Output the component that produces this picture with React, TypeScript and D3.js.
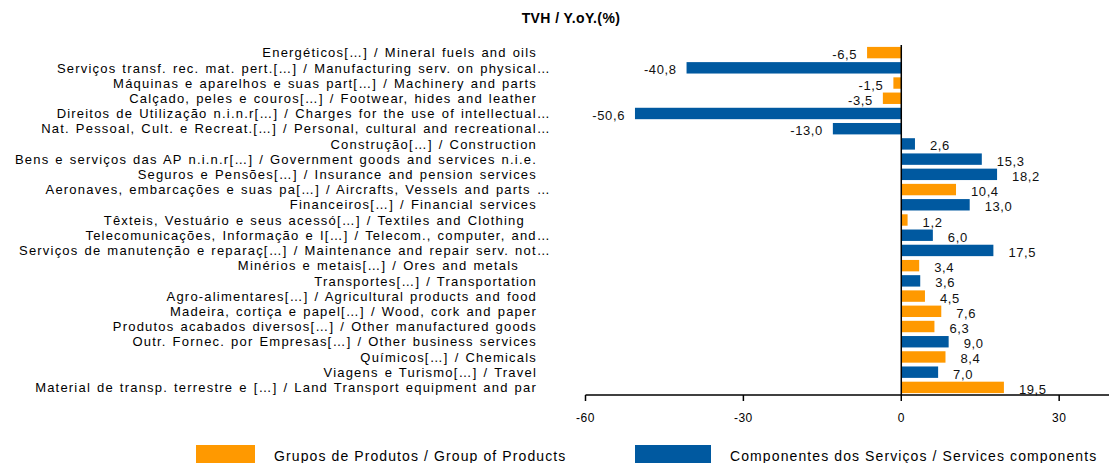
import React, { useEffect, useRef } from 'react'
import * as d3 from 'd3'

// category labels, top to bottom
const categories = [
  "Energéticos[…] / Mineral fuels and oils",
  "Serviços transf. rec. mat. pert.[…] / Manufacturing serv. on physical…",
  "Máquinas e aparelhos e suas part[…] / Machinery and parts",
  "Calçado, peles e couros[…] / Footwear, hides and leather",
  "Direitos de Utilização n.i.n.r[…] / Charges for the use of intellectual…",
  "Nat. Pessoal, Cult. e Recreat.[…] / Personal, cultural and recreational…",
  "Construção[…] / Construction",
  "Bens e serviços das AP n.i.n.r[…] / Government goods and services n.i.e.",
  "Seguros e Pensões[…] / Insurance and pension services",
  "Aeronaves, embarcações e suas pa[…] / Aircrafts, Vessels and parts …",
  "Financeiros[…] / Financial services",
  "Têxteis, Vestuário e seus acessó[…] / Textiles and Clothing  ",
  "Telecomunicações, Informação e I[…] / Telecom., computer, and…",
  "Serviços de manutenção e reparaç[…] / Maintenance and repair serv. not…",
  "Minérios e metais[…] / Ores and metals   ",
  "Transportes[…] / Transportation",
  "Agro-alimentares[…] / Agricultural products and food",
  "Madeira, cortiça e papel[…] / Wood, cork and paper",
  "Produtos acabados diversos[…] / Other manufactured goods",
  "Outr. Fornec. por Empresas[…] / Other business services",
  "Químicos[…] / Chemicals",
  "Viagens e Turismo[…] / Travel",
  "Material de transp. terrestre e […] / Land Transport equipment and par",
]

// Grupos de Produtos / Group of Products
const productValues: (number | null)[] = [
  -6.5, null, -1.5, -3.5, null, null, null, null, null, 10.4, null, 1.2,
  null, null, 3.4, null, 4.5, 7.6, 6.3, null, 8.4, null, 19.5,
]

// Componentes dos Serviços / Services components
const serviceValues: (number | null)[] = [
  null, -40.8, null, null, -50.6, -13.0, 2.6, 15.3, 18.2, null, 13.0, null,
  6.0, 17.5, null, 3.6, null, null, null, 9.0, null, 7.0, null,
]

const xTicks = [-60, -30, 0, 30]
const xDomain = [-60, 40]

const seriesNames = ["Grupos de Produtos / Group of Products", "Componentes dos Serviços / Services components"]
const seriesColours = ["#FF9900", "#0059A0"]

const width = 1109
const height = 463
const font = "'Liberation Sans', Arial, sans-serif"

export default function App() {
  const ref = useRef<SVGSVGElement>(null)

  useEffect(() => {
    const svg = d3.select(ref.current)
    svg.selectAll('*').remove()

    const x = d3.scaleLinear().domain(xDomain).range([585.5, 1111.8])
    const y = d3.scaleBand().domain(categories).range([45, 395]).paddingInner(0.25).paddingOuter(0.125)
    const fmt = (v: number) => d3.format('.1f')(v).replace('.', ',').replace('−', '-')

    // title
    svg.append('text')
      .attr('x', 571).attr('y', 23)
      .attr('text-anchor', 'middle')
      .attr('font-family', font).attr('font-size', 14).attr('font-weight', 'bold')
      .attr('letter-spacing', 0.4)
      .style('white-space', 'pre')
      .text('TVH / Y.oY.(%)')

    // category labels (a trailing ellipsis hangs past the right edge)
    svg.append('g').selectAll('text')
      .data(categories)
      .enter()
      .append('text')
      .attr('x', d => d.endsWith('…') ? 537 + 14 : 537)
      .attr('y', d => y(d)! + y.bandwidth() / 2)
      .attr('dy', '0.36em')
      .attr('text-anchor', 'end')
      .attr('font-family', font).attr('font-size', 13)
      .attr('letter-spacing', 1.2)
      .attr('word-spacing', 1.2)
      .style('white-space', 'pre')
      .text(d => d)

    // bars + value labels for each series
    const series = [productValues, serviceValues]
    series.forEach((vals, si) => {
      const pts = vals
        .map((v, i) => ({ cat: categories[i], v }))
        .filter(d => d.v !== null) as { cat: string; v: number }[]

      svg.append('g').selectAll('rect')
        .data(pts)
        .enter()
        .append('rect')
        .attr('x', d => x(Math.min(0, d.v)))
        .attr('y', d => y(d.cat)!)
        .attr('width', d => Math.abs(x(d.v) - x(0)))
        .attr('height', y.bandwidth())
        .attr('fill', seriesColours[si])

      svg.append('g').selectAll('text')
        .data(pts)
        .enter()
        .append('text')
        .attr('x', d => d.v >= 0 ? x(d.v) + 15 : x(d.v) - 10)
        .attr('y', d => y(d.cat)! + y.bandwidth() / 2 + 6.5)
        .attr('text-anchor', d => d.v >= 0 ? 'start' : 'end')
        .attr('font-family', font).attr('font-size', 13)
        .attr('letter-spacing', 0.6)
        .attr('fill', '#111')
        .text(d => fmt(d.v))
    })

    // vertical zero line
    svg.append('line')
      .attr('x1', x(0)).attr('x2', x(0))
      .attr('y1', 45).attr('y2', 395)
      .attr('stroke', '#000').attr('stroke-width', 1.5)

    // x axis
    const axis = svg.append('g').attr('transform', 'translate(0,395)')
    axis.append('line')
      .attr('x1', x(-60)).attr('x2', width)
      .attr('stroke', '#000').attr('stroke-width', 1.5)
    axis.selectAll('line.tick')
      .data(xTicks)
      .enter()
      .append('line')
      .attr('class', 'tick')
      .attr('x1', d => x(d)).attr('x2', d => x(d))
      .attr('y1', 0).attr('y2', 6)
      .attr('stroke', '#000').attr('stroke-width', 1.5)
    axis.selectAll('text')
      .data(xTicks)
      .enter()
      .append('text')
      .attr('x', d => x(d))
      .attr('y', 27)
      .attr('text-anchor', 'middle')
      .attr('font-family', font).attr('font-size', 12)
      .attr('letter-spacing', 0.5)
      .text(d => String(d))

    // legend
    const legendX = [196, 635]
    const legendW = [59, 76]
    const legendTextX = [274, 730]
    seriesNames.forEach((name, i) => {
      svg.append('rect')
        .attr('x', legendX[i]).attr('y', 445)
        .attr('width', legendW[i]).attr('height', 20)
        .attr('fill', seriesColours[i])
      svg.append('text')
        .attr('x', legendTextX[i]).attr('y', 461)
        .attr('font-family', font).attr('font-size', 14)
        .attr('letter-spacing', 1.1)
        .text(name)
    })
  }, [])

  return (
    <svg
      ref={ref}
      width={width}
      height={height}
      style={{ position: 'absolute', left: 0, top: 0, background: '#fff' }}
    />
  )
}
